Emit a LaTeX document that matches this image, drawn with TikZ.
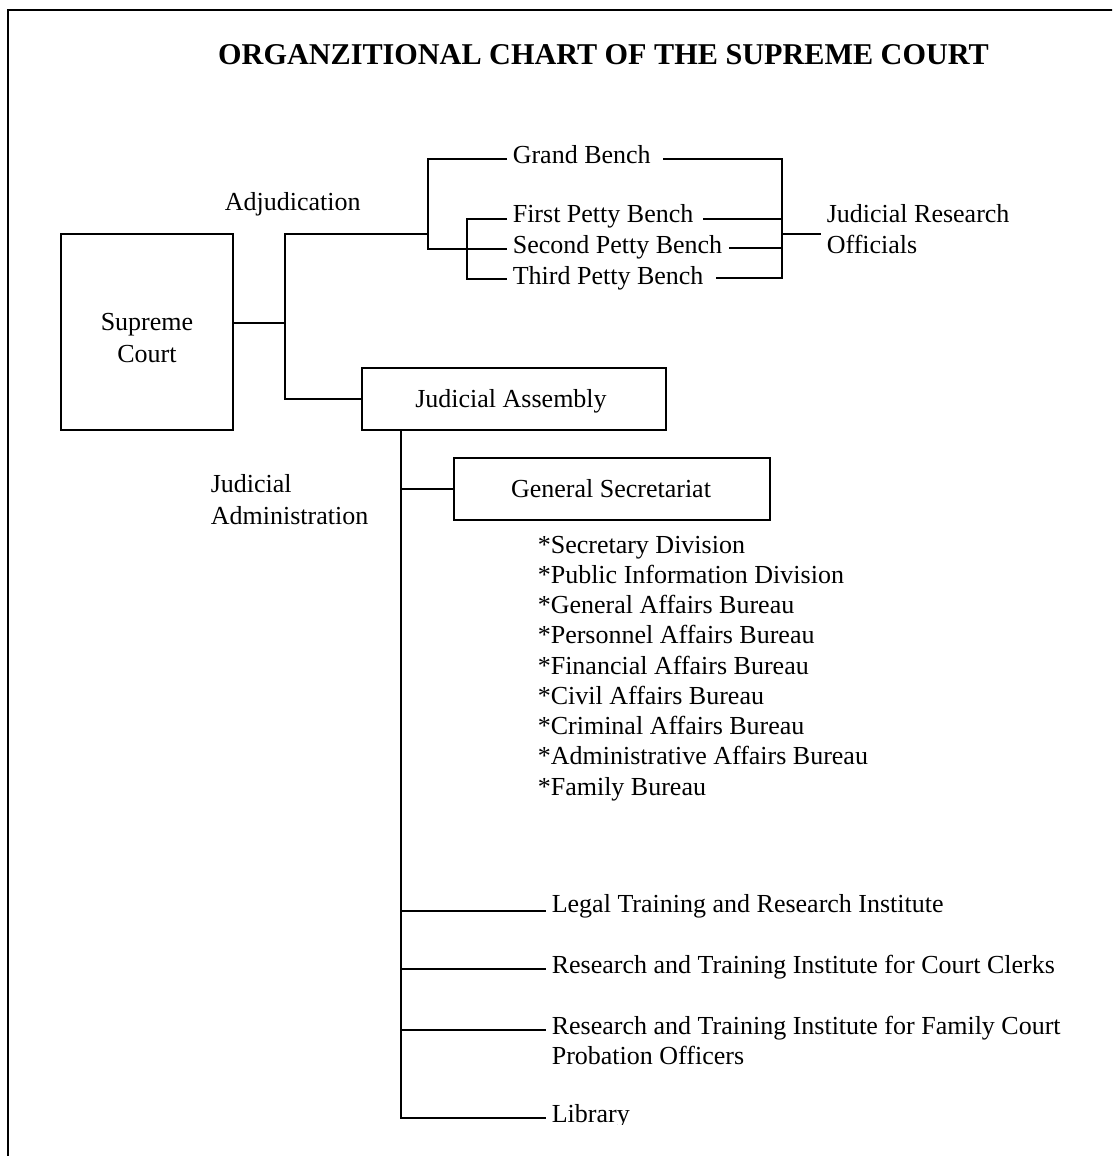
\documentclass[tikz,border=0pt]{standalone}
\usepackage{fontspec}
\setmainfont{Liberation Serif}
\begin{document}
\begin{tikzpicture}[x=1pt,y=-1pt,line width=1.6pt,
  lbl/.style={anchor=base west,inner sep=0pt,font=\fontsize{26}{30}\selectfont},
  clbl/.style={lbl,anchor=base},
  box/.style={draw,line width=1.6pt,inner sep=0pt}]
\useasboundingbox (0,0) rectangle (1112,1156);
\clip (0,0) rectangle (1112,1156);
% frame
\draw (8,1170) -- (8,10) -- (1130,10);
% title
\node[clbl,font=\fontsize{30.2}{34}\selectfont\bfseries] (title) at (603.5,65) {ORGANZITIONAL CHART OF THE SUPREME COURT};
% Supreme Court
\node[box,minimum width=172pt,minimum height=196pt] (sc) at (147,332) {};
\node[clbl] (sct1) at (147,330) {Supreme};
\node[clbl] (sct2) at (147,362) {Court};
% Judicial Assembly
\node[box,minimum width=304pt,minimum height=62pt] (ja) at (514,399) {};
\node[clbl] (jat) at (511,407) {Judicial Assembly};
% General Secretariat
\node[box,minimum width=316pt,minimum height=62pt] (gs) at (612,489) {};
\node[clbl] (gst) at (611,497) {General Secretariat};
% labels
\node[lbl] (adj) at (224,210) {Adjudication};
\node[lbl] (jad1) at (210,492) {Judicial};
\node[lbl] (jad2) at (210,524) {Administration};
\node[lbl] (gb) at (512,163) {Grand Bench};
\node[lbl] (fb) at (512,222) {First Petty Bench};
\node[lbl] (sb) at (512,253) {Second Petty Bench};
\node[lbl] (tb) at (512,284) {Third Petty Bench};
\node[lbl] (jr1) at (826,222) {Judicial Research};
\node[lbl] (jr2) at (826,253) {Officials};
% list
\foreach \t [count=\i from 0] in {*Secretary Division,*Public Information Division,*General Affairs Bureau,*Personnel Affairs Bureau,*Financial Affairs Bureau,*Civil Affairs Bureau,*Criminal Affairs Bureau,*Administrative Affairs Bureau,*Family Bureau}
  \node[lbl] (li\i) at (537,553+30.25*\i) {\t};
% institutes
\node[lbl] (lt) at (551,912) {Legal Training and Research Institute};
\node[lbl] (cc) at (551,973) {Research and Training Institute for Court Clerks};
\node[lbl] (fc1) at (551,1034) {Research and Training Institute for Family Court};
\node[lbl] (fc2) at (551,1064) {Probation Officers};
\begin{scope}
\clip (0,0) rectangle (1112,1124);
\node[lbl] (lib) at (551,1122) {Library};
\end{scope}
% connectors: Supreme Court
\coordinate (j1) at (285,323);
\coordinate (j1t) at (285,234);
\coordinate (j2) at (428,234);
\draw (sc.east |- j1) -- (j1);
\draw (j2) -- (j1t) -- (j1t |- ja.west) -- (ja.west);
% bench tree
\coordinate (g1) at (428,159);
\coordinate (g2) at (428,249);
\coordinate (p1) at (467,219);
\coordinate (p3) at (467,279);
\draw (507,159) -- (g1) -- (g2) -- (507,249);
\draw (507,219) -- (p1) -- (p3) -- (507,279);
% right bracket
\coordinate (r1) at (782,159);
\coordinate (r2) at (782,278);
\coordinate (rm) at (782,234);
\draw (663,159) -- (r1) -- (r2) -- (716,278);
\draw (703,219) -- (782,219);
\draw (729,248) -- (782,248);
\draw (rm) -- (821,234);
% judicial administration tree
\coordinate (v1) at (401,430);
\coordinate (v2) at (401,1118);
\draw (v1) -- (v2) -- (546,1118);
\draw (v1 |- gs.west) -- (gs.west);
\draw (401,911) -- (546,911);
\draw (401,969) -- (546,969);
\draw (401,1030) -- (546,1030);
\end{tikzpicture}
\end{document}
